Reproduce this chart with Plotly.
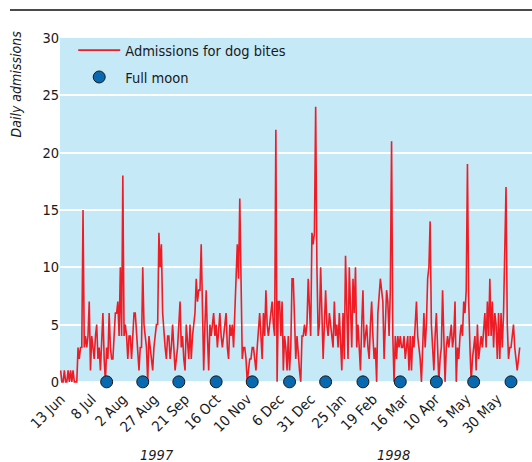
import pandas as pd
import plotly.graph_objects as go

# Daily admissions, one list per calendar month
jun97 = [1, 0, 0, 1, 0, 0, 1, 0, 1, 0, 1, 0, 0, 0, 3, 2, 3, 3]
jul97 = [15, 3, 4, 3, 4, 7, 1, 4, 3, 2, 4, 5, 2, 3, 1, 4, 6, 2, 0, 3, 2, 6, 3, 2, 2, 4, 6, 6, 7, 4, 10]
aug97 = [4, 18, 4, 5, 4, 2, 4, 4, 2, 4, 6, 6, 4, 2, 1, 3, 3, 10, 5, 4, 3, 0, 4, 3, 2, 1, 3, 4, 5, 5, 13]
sep97 = [10, 12, 6, 4, 3, 2, 4, 4, 2, 3, 5, 3, 1, 2, 3, 5, 7, 3, 4, 2, 1, 5, 3, 2, 5, 2, 4, 5, 6, 9]
oct97 = [7, 8, 8, 12, 6, 1, 5, 8, 4, 1, 5, 4, 5, 6, 4, 5, 3, 5, 6, 4, 3, 4, 5, 6, 3, 2, 5, 4, 5, 3, 6]
nov97 = [9, 12, 9, 16, 9, 2, 3, 3, 2, 0, 1, 2, 2, 3, 3, 2, 1, 3, 5, 6, 4, 2, 6, 4, 8, 5, 4, 5, 6, 7]
dec97 = [5, 4, 22, 0, 7, 7, 4, 7, 1, 4, 3, 1, 4, 1, 3, 9, 9, 5, 2, 4, 2, 1, 0, 4, 4, 5, 4, 5, 9, 7, 4]
jan98 = [13, 12, 13, 24, 10, 4, 5, 10, 6, 2, 5, 8, 5, 4, 6, 5, 4, 3, 7, 4, 5, 3, 6, 4, 1, 6, 2, 11, 5, 2, 10]
feb98 = [6, 3, 9, 6, 10, 3, 5, 3, 1, 5, 8, 3, 4, 5, 3, 2, 5, 7, 4, 2, 3, 0, 6, 8, 9, 8, 7, 2]
mar98 = [5, 8, 7, 4, 8, 21, 4, 0, 4, 2, 4, 3, 4, 3, 3, 4, 2, 3, 4, 1, 4, 1, 4, 3, 5, 7, 4, 3, 2, 0, 3]
apr98 = [6, 3, 5, 9, 10, 14, 5, 3, 1, 4, 6, 3, 0, 2, 3, 8, 4, 0, 3, 4, 3, 4, 5, 3, 4, 7, 0, 3, 2, 4]
may98 = [5, 4, 7, 6, 8, 19, 7, 3, 0, 2, 3, 4, 1, 5, 2, 3, 4, 3, 5, 6, 3, 7, 4, 9, 4, 7, 3, 6, 5, 2, 6]
jun98 = [2, 6, 3, 6, 12, 17, 5, 2, 3, 3, 4, 5, 3, 2, 1, 2, 3]

admissions = jun97 + jul97 + aug97 + sep97 + oct97 + nov97 + dec97 + jan98 + feb98 + mar98 + apr98 + may98 + jun98
days = pd.date_range("1997-06-13", periods=len(admissions), freq="D")

full_moons = ["1997-07-20", "1997-08-18", "1997-09-16", "1997-10-16", "1997-11-14", "1997-12-14",
              "1998-01-12", "1998-02-11", "1998-03-13", "1998-04-11", "1998-05-11", "1998-06-10"]
full_moon_y = [0] * len(full_moons)

tick_dates = ["1997-06-13", "1997-07-08", "1997-08-02", "1997-08-27", "1997-09-21", "1997-10-16",
              "1997-11-10", "1997-12-06", "1997-12-31", "1998-01-25", "1998-02-19", "1998-03-16",
              "1998-04-10", "1998-05-05", "1998-05-30"]
tick_labels = ["13 Jun", "8 Jul", "2 Aug", "27 Aug", "21 Sep", "16 Oct", "10 Nov", "6 Dec",
               "31 Dec", "25 Jan", "19 Feb", "16 Mar", "10 Apr", "5 May", "30 May"]
y_ticks = [0, 5, 10, 15, 20, 25, 30]

FONT = "DejaVu Sans Condensed, Liberation Sans Narrow, Arial Narrow, sans-serif"
FS = 14.5

fig = go.Figure()
fig.add_trace(go.Scatter(
    x=days, y=admissions, mode="lines", name="Admissions for dog bites",
    line=dict(color="#ee1c25", width=1.6), legendgroup="a",
))
fig.add_trace(go.Scatter(
    x=full_moons, y=full_moon_y, mode="markers", name="Full moon",
    marker=dict(color="#0868b0", size=12, line=dict(color="#1a1a1a", width=1)),
    cliponaxis=False, legendgroup="b",
))

W, H = 532, 462
L, R, T, B = 60, 0, 38, 79
pw, ph = W - L - R, H - T - B

def px(xp):
    return (xp - L) / pw

def py(yp):
    return (H - B - yp) / ph

fig.update_layout(
    width=W, height=H,
    margin=dict(l=L, r=R, t=T, b=B, autoexpand=False),
    paper_bgcolor="white",
    plot_bgcolor="#c6e9f8",
    font=dict(family=FONT, size=FS, color="#1a1a1a"),
    showlegend=True,
    legend=dict(x=0.028, y=1.011, xanchor="left", yanchor="top", bgcolor="rgba(0,0,0,0)",
                traceorder="grouped", tracegroupgap=5, font=dict(size=FS), itemwidth=42),
    xaxis=dict(
        type="date", automargin=False,
        range=["1997-06-12 12:00", "1998-06-26 21:00"],
        tickvals=tick_dates, ticktext=tick_labels, tickangle=-45,
        showgrid=False, zeroline=False, showline=False, ticks="",
        tickfont=dict(size=FS), ticklabelstandoff=4,
    ),
    yaxis=dict(
        automargin=False,
        range=[-0.1, 30],
        tickvals=y_ticks,
        showgrid=True, gridcolor="white", gridwidth=2,
        zeroline=False, showline=False, ticks="",
        tickfont=dict(size=FS),
    ),
    shapes=[dict(type="line", xref="paper", yref="paper",
                 x0=px(10), x1=px(532), y0=py(10), y1=py(10),
                 line=dict(color="#4a4a4a", width=2))],
    annotations=[
        dict(text="<i>Daily admissions</i>", xref="paper", yref="paper",
             x=px(16), y=py(29), xanchor="center", yanchor="top", textangle=-90,
             showarrow=False, font=dict(size=14)),
        dict(text="<i>1997</i>", xref="paper", yref="paper", x=px(157), y=py(455),
             xanchor="center", yanchor="middle", showarrow=False, font=dict(size=FS)),
        dict(text="<i>1998</i>", xref="paper", yref="paper", x=px(393), y=py(455),
             xanchor="center", yanchor="middle", showarrow=False, font=dict(size=FS)),
    ],
)

fig.write_html("out.html", config={"displayModeBar": False},
               post_script="document.body.style.margin='0';document.body.style.overflow='hidden';")
